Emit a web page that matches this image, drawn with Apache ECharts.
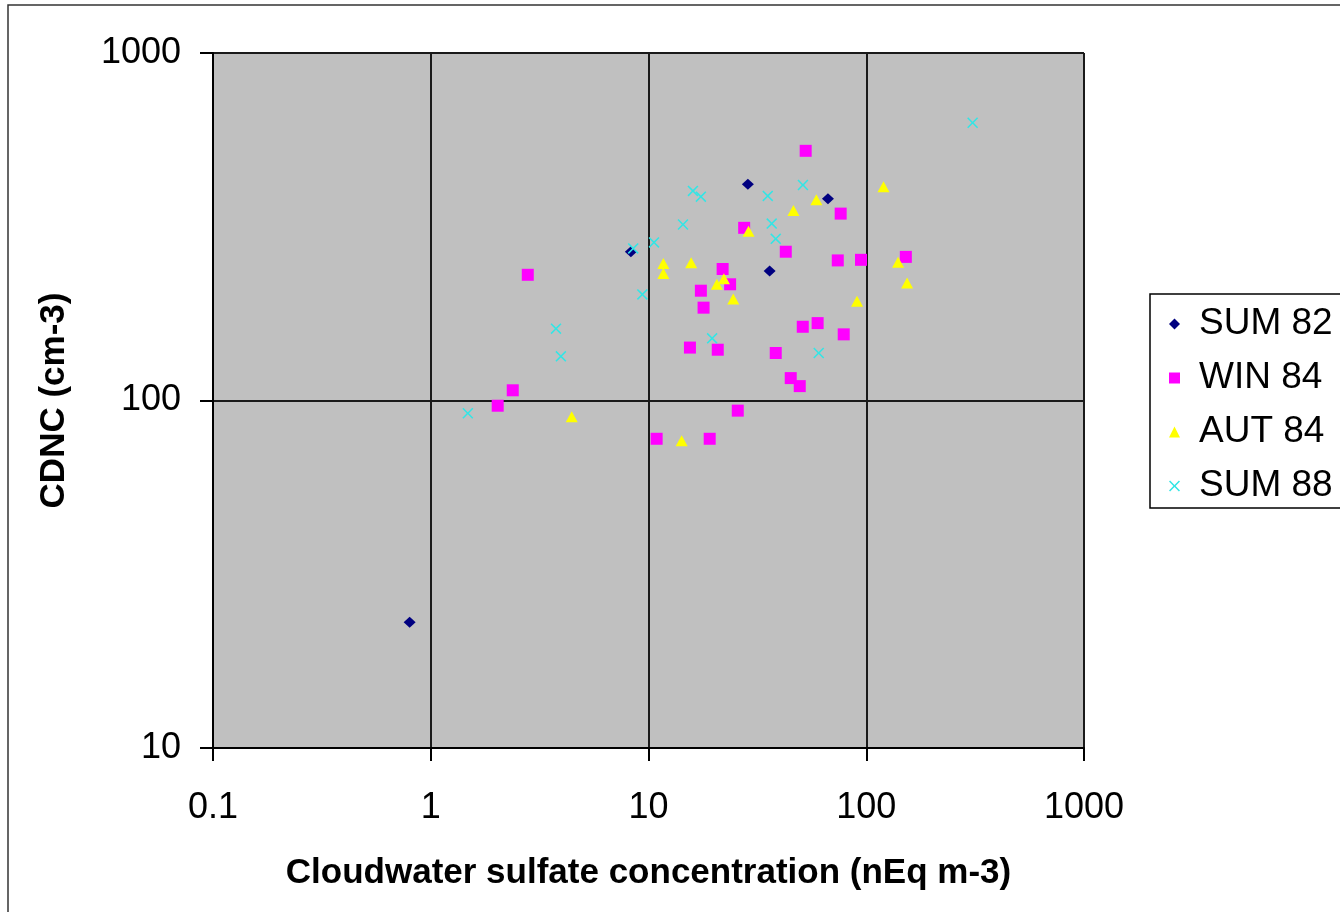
<!DOCTYPE html>
<html>
<head>
<meta charset="utf-8">
<script src="https://cdn.jsdelivr.net/npm/echarts@6/dist/echarts.min.js"></script>
<style>
html,body{margin:0;padding:0;background:#fff;}
#chart{width:1340px;height:912px;}
</style>
</head>
<body>
<div id="chart"></div>
<script>
// ---- data ----
var seriesNames = ['SUM 82', 'WIN 84', 'AUT 84', 'SUM 88'];

var sum82X = [0.80, 8.3, 28.6, 66.7, 36.0];
var sum82Y = [23, 268, 419, 381, 236];

var win84X = [2.79, 2.38, 2.03, 10.9, 19.1, 25.7, 15.5, 20.8, 17.4, 17.9, 21.9, 23.7, 27.5, 42.7, 38.4, 45.0, 49.5, 51.1, 59.8, 78.8, 52.7, 76.3, 74.0, 94.6, 152];
var win84Y = [230, 107, 96.6, 77.6, 77.6, 93.5, 142, 140, 207, 185, 239, 216, 314, 268, 137, 116, 110, 163, 167, 155, 523, 345, 253, 254, 259];

var aut84X = [4.44, 14.2, 11.7, 11.7, 15.7, 20.6, 22.2, 24.5, 28.8, 46.3, 59.0, 120, 140, 154, 90.7];
var aut84Y = [89.8, 76.6, 248, 232, 249, 216, 224, 196, 307, 352, 378, 412, 250, 218, 193];

var sum88X = [1.48, 3.76, 3.96, 8.51, 10.6, 9.37, 14.4, 16.0, 17.4, 19.6, 35.3, 36.8, 38.4, 51.2, 60.5, 308];
var sum88Y = [91.9, 161, 134, 274, 285, 202, 321, 401, 386, 151, 388, 323, 292, 417, 137, 630];

var xTickLabels = ['0.1', '1', '10', '100', '1000'];
var yTickLabels = ['10', '100', '1000'];
var xTitle = 'Cloudwater sulfate concentration (nEq m-3)';
var yTitle = 'CDNC (cm-3)';

function zip(xs, ys) { return xs.map(function (x, i) { return [x, ys[i]]; }); }
function labelFor(list) {
  return function (v) {
    var s = String(+v.toPrecision(6));
    return list.indexOf(s) >= 0 ? s : '';
  };
}

var FONT = '"Liberation Sans", Arial, Helvetica, sans-serif';
var crossPath = 'path://M0,1L1,0L5,4L9,0L10,1L6,5L10,9L9,10L5,6L1,10L0,9L4,5Z';

var chart = echarts.init(document.getElementById('chart'), null, { renderer: 'canvas' });
chart.setOption({
  animation: false,
  backgroundColor: '#ffffff',
  textStyle: { fontFamily: FONT },
  graphic: [{
    type: 'rect',
    shape: { x: 8, y: 5, width: 1400, height: 1000 },
    style: { fill: 'none', stroke: '#333', lineWidth: 1.5 },
    silent: true, z: -10
  }],
  grid: {
    left: 213, top: 53, right: 256, bottom: 164,
    show: true, backgroundColor: '#C0C0C0', borderColor: '#808080', borderWidth: 1
  },
  xAxis: {
    type: 'log', logBase: 10, min: 0.1, max: 1000,
    name: xTitle, nameLocation: 'middle', nameGap: 108,
    nameTextStyle: { fontFamily: FONT, fontSize: 35, fontWeight: 'bold', color: '#000' },
    axisLine: { show: true, onZero: false, lineStyle: { color: '#000', width: 2 } },
    axisTick: { show: true, length: 13, lineStyle: { color: '#000', width: 2 } },
    minorTick: { show: false },
    axisLabel: { margin: 42, fontSize: 36, color: '#000', fontFamily: FONT, formatter: labelFor(xTickLabels), showMinLabel: true, showMaxLabel: true },
    splitLine: { show: true, lineStyle: { color: '#1a1a1a', width: 2 } }
  },
  yAxis: {
    type: 'log', logBase: 10, min: 10, max: 1000,
    name: yTitle, nameLocation: 'middle', nameGap: 141, nameRotate: 90,
    nameTextStyle: { fontFamily: FONT, fontSize: 35, fontWeight: 'bold', color: '#000' },
    axisLine: { show: true, onZero: false, lineStyle: { color: '#000', width: 2 } },
    axisTick: { show: true, length: 13, lineStyle: { color: '#000', width: 2 } },
    minorTick: { show: false },
    axisLabel: { margin: 32, fontSize: 36, color: '#000', fontFamily: FONT, formatter: labelFor(yTickLabels), showMinLabel: true, showMaxLabel: true },
    splitLine: { show: true, lineStyle: { color: '#1a1a1a', width: 2 } }
  },
  legend: {
    orient: 'vertical', left: 1150, top: 294,
    padding: [10, 60, 2, 19],
    itemWidth: 11, itemHeight: 11, itemGap: 14,
    borderColor: '#000', borderWidth: 1.5, backgroundColor: '#fff',
    textStyle: { fontFamily: FONT, fontSize: 37, color: '#000', lineHeight: 40, padding: [0, 0, 0, 14] },
    data: seriesNames
  },
  series: [
    { name: seriesNames[0], type: 'scatter', symbol: 'diamond', symbolSize: [12, 11],
      itemStyle: { color: '#000080', opacity: 1 }, data: zip(sum82X, sum82Y) },
    { name: seriesNames[1], type: 'scatter', symbol: 'rect', symbolSize: 12,
      itemStyle: { color: '#FF00FF', opacity: 1 }, data: zip(win84X, win84Y) },
    { name: seriesNames[2], type: 'scatter', symbol: 'triangle', symbolSize: [12, 11],
      itemStyle: { color: '#FFFF00', opacity: 1 }, data: zip(aut84X, aut84Y) },
    { name: seriesNames[3], type: 'scatter', symbol: crossPath, symbolSize: 11,
      itemStyle: { color: '#33E5E5', opacity: 1 }, data: zip(sum88X, sum88Y) }
  ]
});
</script>
</body>
</html>
